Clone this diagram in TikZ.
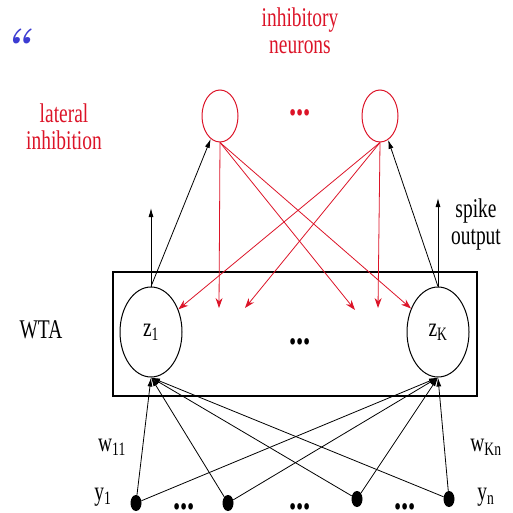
\documentclass[tikz,border=0pt]{standalone}
\usepackage{fontspec}
\newfontfamily\figfont[FakeStretch=0.72]{Liberation Serif}
\usepackage{tikz}
\usetikzlibrary{shapes.geometric,arrows.meta}
\definecolor{inhred}{RGB}{220,20,40}
\definecolor{quoteblue}{RGB}{60,60,210}
\tikzset{every picture/.append style={x=1pt,y=-1pt}}
\tikzset{wta/.style={ellipse,draw,line width=1pt,minimum width=62pt,minimum height=90pt,inner sep=0pt,font=\figfont\fontsize{27}{30}\selectfont}}
\tikzset{inhib/.style={ellipse,draw=inhred,line width=1pt,minimum width=36pt,minimum height=52pt,inner sep=0pt}}
\tikzset{input/.style={ellipse,fill=black,minimum width=11pt,minimum height=16pt,inner sep=0pt}}
\tikzset{txt/.style={font=\figfont\fontsize{27}{27}\selectfont,align=center,inner sep=0pt}}
\tikzset{redtxt/.style={txt,text=inhred}}
\tikzset{dots/.style={font=\figfont\bfseries\fontsize{40}{40}\selectfont,inner sep=0pt}}
\tikzset{edge/.style={line width=0.8pt,-{Latex[length=9pt,width=5pt]}}}
\tikzset{inharc/.style={line width=0.8pt,draw=inhred,-{Stealth[length=10pt,width=7pt]}}}

\begin{document}
\begin{tikzpicture}
%winner-take-all circuit: input spikes y drive the z units, inhibitory pool feeds back onto them
\useasboundingbox (0,0) rectangle (512,513);
\node (q) at (17,44)[font=\fontsize{44}{44}\selectfont\bfseries\itshape,text=quoteblue,inner sep=0pt]{“};
\node (inh) at (300,31)[redtxt]{inhibitory\\neurons};
\node (lat) at (64,127)[redtxt]{lateral\\inhibition};
\node (spk) at (476,225)[txt]{spike\\output};
\node (wta) at (41,330)[txt]{WTA};
\node (i1) at (220,116)[inhib]{};
\node (i2) at (380,116)[inhib]{};
\node (idots) at (300,113)[dots,text=inhred]{...};
\node (box) at (295,334)[draw,line width=1.2pt,minimum width=364pt,minimum height=124pt]{};
\node (z1) at (151,332)[wta]{z\textsubscript{1}};
\node (zK) at (438,332)[wta]{z\textsubscript{K}};
\node (zdots) at (300,342)[dots]{...};
\node (y1) at (136,503)[input]{};
\node (y2) at (228,503)[input]{};
\node (y3) at (357,499)[input]{};
\node (yn) at (449,499)[input]{};
\node (d1) at (184,507)[dots]{...};
\node (d2) at (300,507)[dots]{...};
\node (d3) at (405,507)[dots]{...};
\node (w11) at (112,447)[txt]{w\textsubscript{11}};
\node (wKn) at (486,447)[txt]{w\textsubscript{Kn}};
\node (ly1) at (103,497)[txt]{y\textsubscript{1}};
\node (lyn) at (486,497)[txt]{y\textsubscript{n}};
\coordinate (o1) at (151,208);
\coordinate (oK) at (438,198);
\coordinate (r1) at (219,308);
\coordinate (r2) at (355,310);
\coordinate (r3) at (245,308);
\coordinate (r4) at (378,308);
\draw[edge] (z1.north)--(o1);
\draw[edge] (z1.north)--(i1);
\draw[edge] (zK.north)--(oK);
\draw[edge] (zK.north)--(i2);
\draw[inharc] (i1.south)--(r1);
\draw[inharc] (i1.south)--(r2);
\draw[inharc] (i1.south)--(zK);
\draw[inharc] (i2.south)--(r4);
\draw[inharc] (i2.south)--(r3);
\draw[inharc] (i2.south)--(z1);
\draw[edge] (y1)--(z1.south);
\draw[edge] (y1)--(zK.south);
\draw[edge] (y2)--(z1.south);
\draw[edge] (y2)--(zK.south);
\draw[edge] (y3)--(z1.south);
\draw[edge] (y3)--(zK.south);
\draw[edge] (yn)--(z1.south);
\draw[edge] (yn)--(zK.south);
\end{tikzpicture}
\end{document}
